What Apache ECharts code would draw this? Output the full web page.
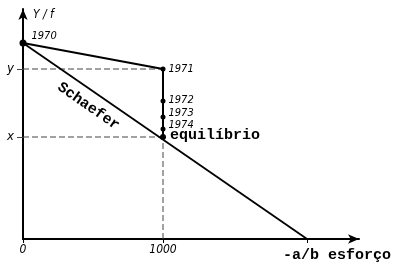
<!DOCTYPE html>
<html><head><meta charset="utf-8">
<script src="https://cdn.jsdelivr.net/npm/echarts@6/dist/echarts.min.js"></script>
<style>html,body{margin:0;padding:0;background:#fff}#c{width:400px;height:268px}</style>
</head><body><div id="c"></div>
<script>
// ---- data ----
const years = ['1970', '1971', '1972', '1973', '1974'];
const effort = [0, 1000, 1000, 1000, 1000];
const yieldPerEffort = [196, 170, 138, 122, 110];
const equilibriumLabel = 'equilíbrio';
const equilibriumPoint = [1000, 102];
const schaeferLabel = 'Schaefer';
const schaeferEffort = [0, 2029];
const schaeferYield = [196, 0];
const xTickValues = [0, 1000];
const xTickLabels = ['0', '1000'];
const aOverBLabel = '-a/b esforço';
const yLevelValues = [102, 170];
const yLevelLabels = ['x', 'y'];
const yAxisName = 'Y / f';

// ---- build ----
const italicFont = '"Liberation Sans Narrow","DejaVu Sans Condensed","Liberation Sans",sans-serif';
const monoFont = '"Liberation Mono","DejaVu Sans Mono",monospace';

const yearOffsets = [[0, -7], [0, 0], [0, -1], [0, -4], [0, -4]];
const yearDist = [5, 3, 3, 3, 3];
const pathData = years.map((yr, i) => ({
  value: [effort[i], yieldPerEffort[i]],
  symbolSize: i === 0 ? 7 : 5,
  label: {show: true, position: 'right', distance: yearDist[i], offset: yearOffsets[i],
    formatter: yr, fontFamily: italicFont, fontStyle: 'italic', fontSize: 11, color: '#000'}
}));
pathData.push({
  value: equilibriumPoint.slice(),
  symbolSize: 6,
  label: {show: true, position: 'right', distance: 4, offset: [0, -2], formatter: equilibriumLabel,
    fontFamily: monoFont, fontWeight: 'bold', fontSize: 15, color: '#000'}
});

const schaeferData = schaeferEffort.map((x, i) => [x, schaeferYield[i]]);
const t = 0.243;
const schaeferAnchor = [
  schaeferEffort[0] + t * (schaeferEffort[1] - schaeferEffort[0]),
  schaeferYield[0] + t * (schaeferYield[1] - schaeferYield[0])
];

const dashStyle = {color: '#444', width: 1, type: [6, 3]};
const dashSeries = [
  [[0, yLevelValues[1]], [effort[1], yLevelValues[1]]],
  [[0, yLevelValues[0]], [equilibriumPoint[0], yLevelValues[0]]],
  [[equilibriumPoint[0], 0], [equilibriumPoint[0], yLevelValues[0]]]
].map(d => ({type: 'line', data: d, symbol: 'none', lineStyle: dashStyle, z: 1, silent: true}));

const option = {
  animation: false,
  backgroundColor: '#fff',
  grid: {left: 23, right: 41, top: 9, bottom: 29, containLabel: false},
  xAxis: {
    type: 'value', min: 0, max: 2400,
    splitLine: {show: false},
    axisLine: {show: true, onZero: false, lineStyle: {color: '#000', width: 2}, symbol: ['none', 'arrow'], symbolSize: [7, 11]},
    axisTick: {show: true, customValues: xTickValues.concat([schaeferEffort[1]]), length: 4, lineStyle: {color: '#000', width: 1}},
    axisLabel: {show: true, customValues: xTickValues, margin: 5,
      formatter: v => xTickLabels[xTickValues.indexOf(v)] || '',
      fontFamily: italicFont, fontStyle: 'italic', fontSize: 12, color: '#000'}
  },
  yAxis: {
    type: 'value', min: 0, max: 230,
    splitLine: {show: false},
    name: yAxisName, nameLocation: 'end', nameGap: -6,
    nameTextStyle: {align: 'left', verticalAlign: 'middle', padding: [0, 0, 0, 10],
      fontFamily: italicFont, fontStyle: 'italic', fontSize: 12, color: '#000'},
    axisLine: {show: true, onZero: false, lineStyle: {color: '#000', width: 2}, symbol: ['none', 'arrow'], symbolSize: [7, 11]},
    axisTick: {show: true, customValues: yLevelValues, length: 6, lineStyle: {color: '#444', width: 1}},
    axisLabel: {show: true, customValues: yLevelValues, margin: 9,
      formatter: v => yLevelLabels[yLevelValues.indexOf(v)] || '',
      fontFamily: italicFont, fontStyle: 'italic', fontSize: 13, color: '#000'}
  },
  series: dashSeries.concat([
    {type: 'line', data: schaeferData, symbol: 'none', lineStyle: {color: '#000', width: 1.8}, z: 2},
    {type: 'line', data: pathData, symbol: 'circle', showSymbol: true,
      itemStyle: {color: '#000'}, lineStyle: {color: '#000', width: 2}, z: 3},
    {type: 'scatter', symbolSize: 0, z: 4, silent: true, itemStyle: {opacity: 1, color: '#000'},
      data: [
        {value: schaeferAnchor, label: {show: true, position: 'inside', offset: [6, 15], rotate: -35,
          formatter: schaeferLabel, fontFamily: monoFont, fontWeight: 'bold', fontSize: 15, color: '#000'}},
        {value: [schaeferEffort[1], 0], label: {show: true, position: 'inside', offset: [30, 16],
          formatter: aOverBLabel, fontFamily: monoFont, fontWeight: 'bold', fontSize: 15, color: '#000'}}
      ]}
  ])
};
const chart = echarts.init(document.getElementById('c'), null, {renderer: 'canvas'});
chart.setOption(option);
</script>
</body></html>
